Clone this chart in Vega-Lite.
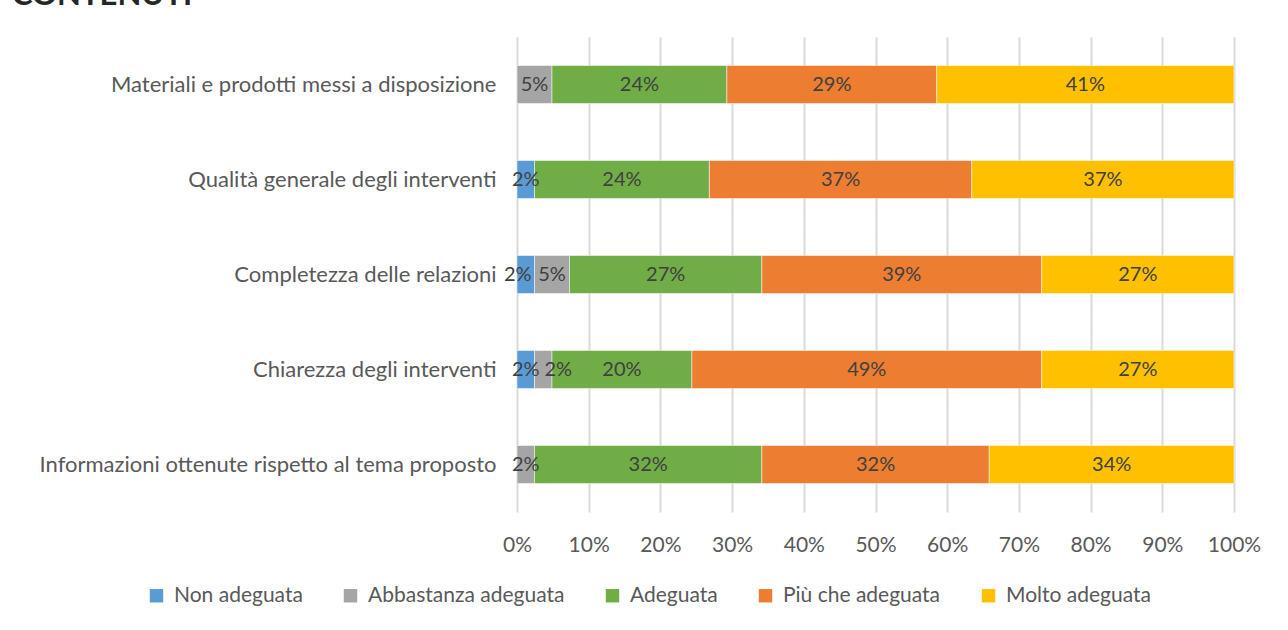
{
  "$schema": "https://vega.github.io/schema/vega-lite/v6.json",
  "autosize": "none",
  "width": 717,
  "height": 475,
  "padding": {"left": 517, "top": 37, "right": 54, "bottom": 118},
  "background": "white",
  "title": {"text": "CONTENUTI", "anchor": "start", "frame": "group", "dx": -505, "offset": 27, "dy": 26, "baseline": "alphabetic", "fontSize": 31, "fontWeight": "bold", "font": "Lato", "color": "#262626"},
  "config": {
    "font": "Lato",
    "view": {"stroke": null}
  },
  "data": {"values": [
    {"q": "Materiali e prodotti messi a disposizione", "cat": "Abbastanza adeguata", "rank": 2, "v": 0.0488},
    {"q": "Materiali e prodotti messi a disposizione", "cat": "Adeguata", "rank": 3, "v": 0.2439},
    {"q": "Materiali e prodotti messi a disposizione", "cat": "Più che adeguata", "rank": 4, "v": 0.2927},
    {"q": "Materiali e prodotti messi a disposizione", "cat": "Molto adeguata", "rank": 5, "v": 0.4146},
    {"q": "Qualità generale degli interventi", "cat": "Non adeguata", "rank": 1, "v": 0.0244},
    {"q": "Qualità generale degli interventi", "cat": "Adeguata", "rank": 3, "v": 0.2439},
    {"q": "Qualità generale degli interventi", "cat": "Più che adeguata", "rank": 4, "v": 0.3659},
    {"q": "Qualità generale degli interventi", "cat": "Molto adeguata", "rank": 5, "v": 0.3659},
    {"q": "Completezza delle relazioni", "cat": "Non adeguata", "rank": 1, "v": 0.0244},
    {"q": "Completezza delle relazioni", "cat": "Abbastanza adeguata", "rank": 2, "v": 0.0488},
    {"q": "Completezza delle relazioni", "cat": "Adeguata", "rank": 3, "v": 0.2683},
    {"q": "Completezza delle relazioni", "cat": "Più che adeguata", "rank": 4, "v": 0.3902},
    {"q": "Completezza delle relazioni", "cat": "Molto adeguata", "rank": 5, "v": 0.2683},
    {"q": "Chiarezza degli interventi", "cat": "Non adeguata", "rank": 1, "v": 0.0244},
    {"q": "Chiarezza degli interventi", "cat": "Abbastanza adeguata", "rank": 2, "v": 0.0244},
    {"q": "Chiarezza degli interventi", "cat": "Adeguata", "rank": 3, "v": 0.1951},
    {"q": "Chiarezza degli interventi", "cat": "Più che adeguata", "rank": 4, "v": 0.4878},
    {"q": "Chiarezza degli interventi", "cat": "Molto adeguata", "rank": 5, "v": 0.2683},
    {"q": "Informazioni ottenute rispetto al tema proposto", "cat": "Abbastanza adeguata", "rank": 2, "v": 0.0244},
    {"q": "Informazioni ottenute rispetto al tema proposto", "cat": "Adeguata", "rank": 3, "v": 0.3171},
    {"q": "Informazioni ottenute rispetto al tema proposto", "cat": "Più che adeguata", "rank": 4, "v": 0.3171},
    {"q": "Informazioni ottenute rispetto al tema proposto", "cat": "Molto adeguata", "rank": 5, "v": 0.3415}
  ]},
  "encoding": {
    "y": {
      "field": "q", "type": "nominal", "title": null,
      "sort": ["Materiali e prodotti messi a disposizione", "Qualità generale degli interventi", "Completezza delle relazioni", "Chiarezza degli interventi", "Informazioni ottenute rispetto al tema proposto"],
      "scale": {"paddingInner": 0.6, "paddingOuter": 0.3},
      "axis": {"domain": false, "ticks": false, "labelPadding": 21, "labelFontSize": 22, "labelColor": "#595959", "labelFont": "Lato", "labelLimit": 600}
    },
    "x": {
      "field": "v", "type": "quantitative", "stack": "zero", "title": null,
      "scale": {"domain": [0, 1], "nice": false},
      "axis": {"format": ".0%", "values": [0, 0.1, 0.2, 0.3, 0.4, 0.5, 0.6, 0.7, 0.8, 0.9, 1], "labelOverlap": false, "labelFlush": false, "domain": false, "ticks": false, "grid": true, "gridColor": "#d9d9d9", "gridWidth": 2, "labelPadding": 22, "labelFontSize": 21, "labelColor": "#595959", "labelFont": "Lato"}
    },
    "order": {"field": "rank", "type": "quantitative"}
  },
  "layer": [
    {
      "mark": {"type": "bar", "stroke": "white", "strokeWidth": 0.5},
      "encoding": {
        "color": {
          "field": "cat", "type": "nominal",
          "scale": {"domain": ["Non adeguata", "Abbastanza adeguata", "Adeguata", "Più che adeguata", "Molto adeguata"], "range": ["#5B9BD5", "#A5A5A5", "#70AD47", "#ED7D31", "#FFC000"]},
          "legend": {"title": null, "orient": "none", "legendX": -371, "legendY": 548, "direction": "horizontal", "symbolType": "square", "symbolSize": 180, "symbolStrokeWidth": 0, "labelFontSize": 21, "labelColor": "#595959", "labelFont": "Lato", "labelOffset": 7, "columnPadding": 37, "labelLimit": 400}
        }
      }
    },
    {
      "mark": {"type": "text", "fontSize": 20, "color": "#404040", "font": "Lato"},
      "encoding": {
        "x": {"field": "v", "type": "quantitative", "stack": "zero", "bandPosition": 0.5},
        "text": {
          "condition": {"test": "(datum.q === 'Completezza delle relazioni' && datum.cat === 'Non adeguata') || (datum.q === 'Chiarezza degli interventi' && datum.cat === 'Abbastanza adeguata')", "value": ""},
          "field": "v", "type": "quantitative", "format": ".0%"
        }
      }
    },
    {
      "mark": {"type": "text", "fontSize": 20, "color": "#404040", "font": "Lato", "dx": -8},
      "encoding": {
        "x": {"field": "v", "type": "quantitative", "stack": "zero", "bandPosition": 0.5},
        "text": {
          "condition": {"test": "datum.q === 'Completezza delle relazioni' && datum.cat === 'Non adeguata'", "field": "v", "type": "quantitative", "format": ".0%"},
          "value": ""
        }
      }
    },
    {
      "mark": {"type": "text", "fontSize": 20, "color": "#404040", "font": "Lato", "dx": 15},
      "encoding": {
        "x": {"field": "v", "type": "quantitative", "stack": "zero", "bandPosition": 0.5},
        "text": {
          "condition": {"test": "datum.q === 'Chiarezza degli interventi' && datum.cat === 'Abbastanza adeguata'", "field": "v", "type": "quantitative", "format": ".0%"},
          "value": ""
        }
      }
    }
  ]
}
